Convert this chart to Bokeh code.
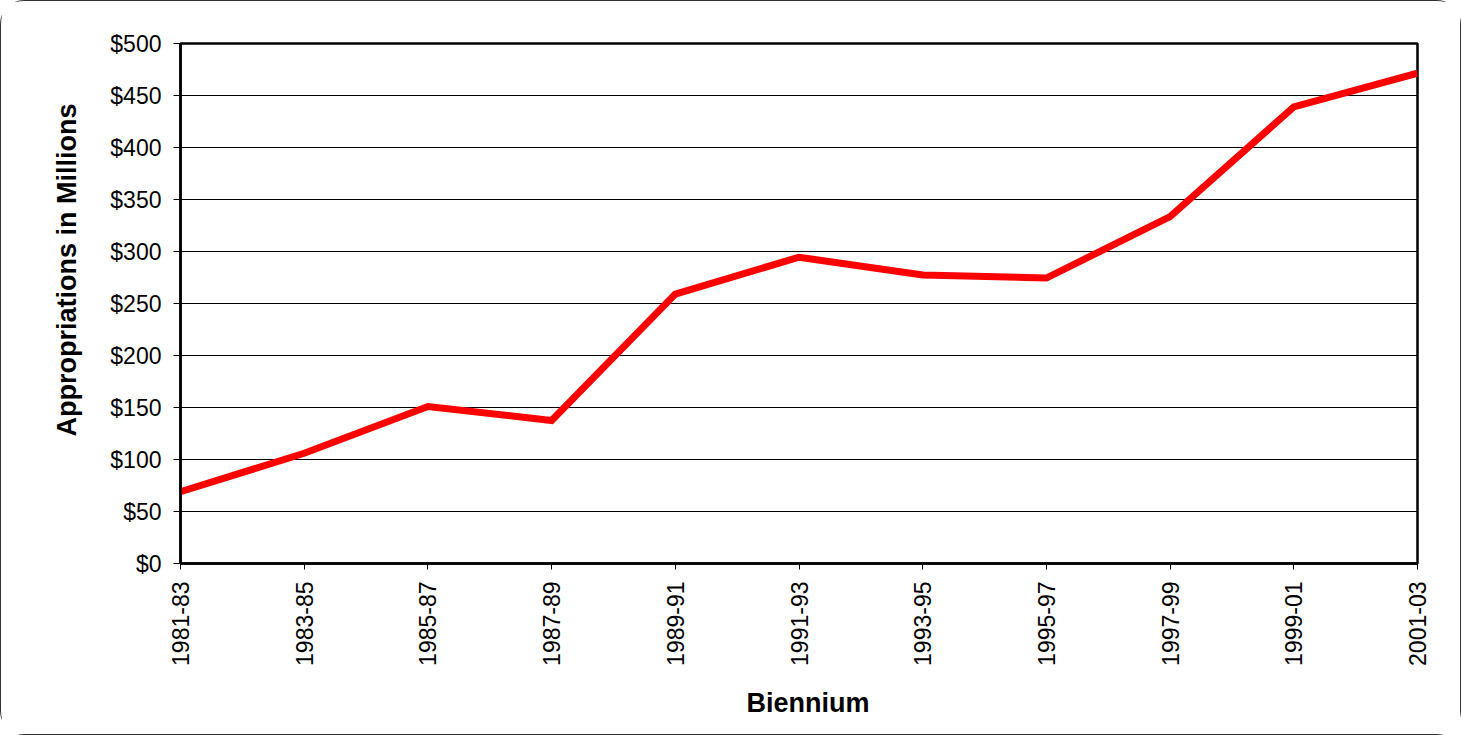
from bokeh.plotting import figure
from bokeh.models import Range1d, FixedTicker, Title, NumeralTickFormatter
from bokeh.embed import file_html
from bokeh.resources import INLINE
import math

bienniums = ["1981-83", "1983-85", "1985-87", "1987-89", "1989-91", "1991-93",
             "1993-95", "1995-97", "1997-99", "1999-01", "2001-03"]
appropriations = [69, 106, 151, 137.5, 259, 294.5, 277.5, 274.5, 333.5, 439, 471.5]
y_ticks = [0, 50, 100, 150, 200, 250, 300, 350, 400, 450, 500]

FONT = "Liberation Sans"
xs = list(range(len(bienniums)))

p = figure(width=1459, height=724, output_backend="svg", toolbar_location=None,
           x_range=Range1d(0, len(bienniums) - 1), y_range=Range1d(0, 500),
           min_border_left=179, min_border_right=43, min_border_top=42,
           min_border_bottom=162, frame_width=1237, frame_height=520)
p.styles = {"border": "1.5px solid #333", "border-radius": "24px"}
p.background_fill_color = "white"
p.border_fill_color = "white"
p.outline_line_color = "black"
p.outline_line_width = 2.5

p.line(xs, appropriations, line_color="#ff0000", line_width=7, line_join="miter")

# y axis
p.yaxis.ticker = FixedTicker(ticks=y_ticks)
p.yaxis.formatter = NumeralTickFormatter(format="$0")
p.yaxis.major_label_text_font = FONT
p.yaxis.major_label_text_font_size = "23px"
p.yaxis.major_label_text_color = "black"
p.yaxis.major_label_standoff = 12
p.yaxis.major_tick_out = 7
p.yaxis.major_tick_in = 0
p.yaxis.minor_tick_out = 0
p.yaxis.minor_tick_in = 0
p.yaxis.axis_line_color = "black"
p.yaxis.axis_line_width = 2.5
p.yaxis.major_tick_line_color = "black"

# x axis
p.xaxis.ticker = FixedTicker(ticks=xs)
p.xaxis.major_label_overrides = {i: b for i, b in enumerate(bienniums)}
p.xaxis.major_label_orientation = math.pi / 2
p.xaxis.major_label_text_font = FONT
p.xaxis.major_label_text_font_size = "23px"
p.xaxis.major_label_text_color = "black"
p.xaxis.major_label_standoff = 12
p.xaxis.major_tick_out = 6
p.xaxis.major_tick_in = 0
p.xaxis.minor_tick_out = 0
p.xaxis.minor_tick_in = 0
p.xaxis.axis_line_color = "black"
p.xaxis.axis_line_width = 2.5
p.xaxis.major_tick_line_color = "black"

p.xgrid.visible = False
p.ygrid.ticker = FixedTicker(ticks=y_ticks)
p.ygrid.grid_line_color = "black"
p.ygrid.grid_line_width = 1

yt = Title(text="Appropriations in Millions", align="left", offset=127,
           text_font=FONT, text_font_size="27px", text_font_style="bold",
           text_color="black", standoff=51)
p.add_layout(yt, "left")
xt = Title(text="Biennium", align="left", offset=566,
           text_font=FONT, text_font_size="27px", text_font_style="bold",
           text_color="black", standoff=34)
p.add_layout(xt, "below")

open("out.html", "w").write(file_html(p, INLINE))
